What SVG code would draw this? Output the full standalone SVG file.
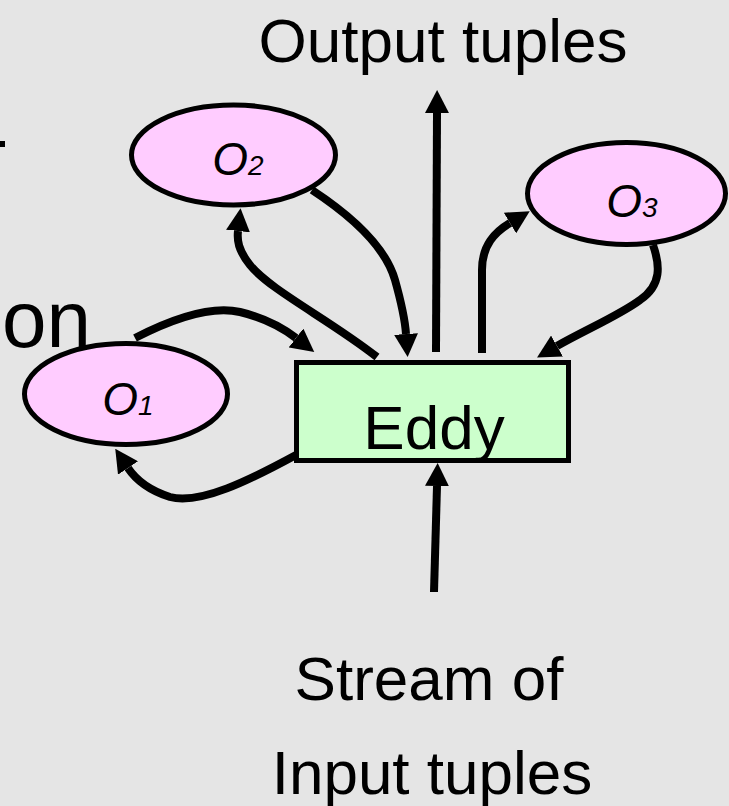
<svg xmlns="http://www.w3.org/2000/svg" width="729" height="806" viewBox="0 0 729 806">
<style>
.t{font-family:"Liberation Sans",Arial,Helvetica,sans-serif;fill:#000}
.op{fill:#ffccff;stroke:#000;stroke-width:5}
.lbl{font-family:"Liberation Sans",Arial,Helvetica,sans-serif;font-style:italic;font-size:46px;text-anchor:middle}
.c{fill:none;stroke:#000;stroke-width:8;marker-end:url(#ah)}
</style>
<defs>
<marker id="ah" markerUnits="userSpaceOnUse" markerWidth="23" markerHeight="24" refX="0" refY="12" orient="auto" viewBox="0 0 23 24">
<path d="M0,0 L23,12 L0,24 z" fill="#000"/>
</marker>
</defs>
<rect width="729" height="806" fill="#e5e5e5"/>
<rect x="0" y="141" width="5" height="6" fill="#000"/>
<text class="t" x="443" y="62" font-size="62" text-anchor="middle">Output tuples</text>
<text class="t" x="91" y="347" font-size="80" text-anchor="end">on</text>
<text class="t" x="429" y="700" font-size="62" text-anchor="middle">Stream of</text>
<text class="t" x="432" y="794" font-size="62" text-anchor="middle">Input tuples</text>
<g id="O1">
<ellipse class="op" cx="126" cy="394" rx="101.5" ry="50.5"/>
<text class="lbl" x="128" y="415">O<tspan font-size="28">1</tspan></text>
</g>
<g id="O2">
<ellipse class="op" cx="233.5" cy="155" rx="102" ry="50"/>
<text class="lbl" x="238" y="175">O<tspan font-size="28">2</tspan></text>
</g>
<g id="O3">
<ellipse class="op" cx="626.5" cy="193.5" rx="99" ry="51"/>
<text class="lbl" x="632" y="217">O<tspan font-size="28">3</tspan></text>
</g>
<g id="Eddy">
<rect x="296.5" y="362.5" width="272" height="98" fill="#ccffcc" stroke="#000" stroke-width="5"/>
<text class="t" x="434" y="449" font-size="62" text-anchor="middle">Eddy</text>
</g>
<g id="connectors">
<path class="c" d="M135,338 C170,320 210,305 240,312 C265,318 283,328 296,338"/>
<path class="c" d="M296,455 C250,480 200,505 170,497 C148,490 136,480 128,468"/>
<path class="c" d="M377,357 C330,320 270,290 250,265 C238,250 237,240 238,231"/>
<path class="c" d="M312,190 C350,215 385,245 395,280 C402,305 405,320 406,334"/>
<path class="c" d="M482,353 L482,270 C482,245 495,232 510,223"/>
<path class="c" d="M653,245 C660,265 662,285 640,300 C620,315 585,330 557,346"/>
<path class="c" d="M436,352 L437,113"/>
<path class="c" d="M434,592 L437,486"/>
</g>
</svg>
